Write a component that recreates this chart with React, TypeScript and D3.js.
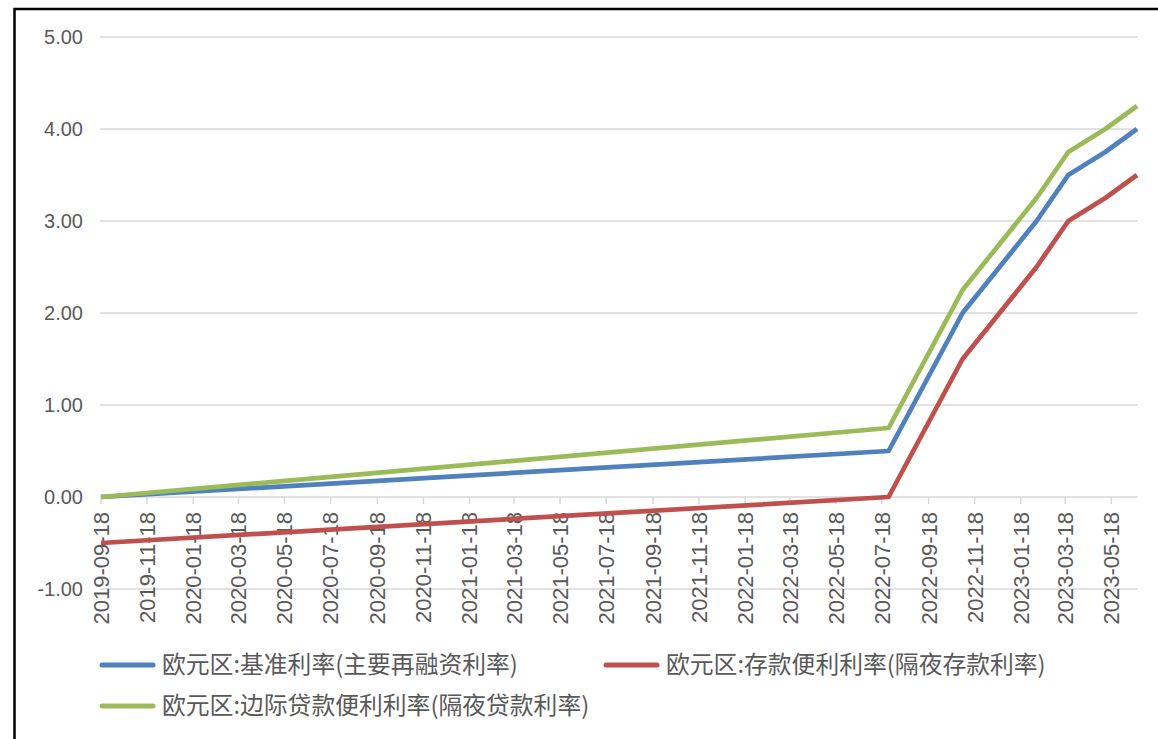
import React from "react";
import * as d3 from "d3";

// Decision dates of the ECB policy rates (%)
const dates = [
  "2019-09-18",
  "2022-07-27",
  "2022-09-14",
  "2022-11-02",
  "2022-12-21",
  "2023-02-08",
  "2023-03-22",
  "2023-05-10",
  "2023-06-21",
];
const mainRefi = [0, 0.5, 1.25, 2.0, 2.5, 3.0, 3.5, 3.75, 4.0];
const depositFacility = [-0.5, 0, 0.75, 1.5, 2.0, 2.5, 3.0, 3.25, 3.5];
const marginalLending = [0, 0.75, 1.5, 2.25, 2.75, 3.25, 3.75, 4.0, 4.25];

const seriesNames = [
  "欧元区:基准利率(主要再融资利率)",
  "欧元区:存款便利利率(隔夜存款利率)",
  "欧元区:边际贷款便利利率(隔夜贷款利率)",
];
const seriesColors = ["#4f81bd", "#c0504d", "#9bbb59"];

const xTickLabels = [
  "2019-09-18", "2019-11-18", "2020-01-18", "2020-03-18", "2020-05-18",
  "2020-07-18", "2020-09-18", "2020-11-18", "2021-01-18", "2021-03-18",
  "2021-05-18", "2021-07-18", "2021-09-18", "2021-11-18", "2022-01-18",
  "2022-03-18", "2022-05-18", "2022-07-18", "2022-09-18", "2022-11-18",
  "2023-01-18", "2023-03-18", "2023-05-18",
];
const yTicks = [-1, 0, 1, 2, 3, 4, 5];

const W = 1158;
const H = 739;
const parse = d3.utcParse("%Y-%m-%d");
const locale = d3.formatLocale({
  decimal: ".",
  thousands: ",",
  grouping: [3],
  currency: ["", ""],
  minus: "-",
});

export default function App() {
  const parsedDates = dates.map((d) => parse(d) as Date);
  const x = d3
    .scaleUtc()
    .domain([parsedDates[0], parsedDates[parsedDates.length - 1]])
    .range([101, 1137]);
  const y = d3.scaleLinear().domain([-1, 5]).range([589, 37]);

  const allSeries = [mainRefi, depositFacility, marginalLending];
  const line = d3
    .line<[Date, number]>()
    .x((d) => x(d[0]))
    .y((d) => y(d[1]));

  const fmt = locale.format(".2f");
  const axisFont = "'Liberation Sans', Arial, sans-serif";
  const cjkFont = "'Noto Sans CJK SC', sans-serif";

  const legendItems = [
    { lx: 100, ly: 665 },
    { lx: 604, ly: 665 },
    { lx: 100, ly: 706 },
  ];

  return (
    <svg
      width={W}
      height={H}
      style={{ position: "absolute", left: 0, top: 0, background: "#fff" }}
    >
      <rect x={0} y={0} width={W} height={H} fill="#fff" />
      {/* chart frame */}
      <rect
        x={14.5}
        y={9}
        width={1400}
        height={900}
        fill="none"
        stroke="#000"
        strokeWidth={2.5}
      />

      {/* horizontal gridlines */}
      {yTicks.map((t) => (
        <line
          key={"g" + t}
          x1={100}
          x2={1138}
          y1={y(t)}
          y2={y(t)}
          stroke="#d9d9d9"
          strokeWidth={1.5}
        />
      ))}

      {/* y tick labels */}
      {yTicks.map((t) => (
        <text
          key={"yl" + t}
          x={83}
          y={y(t)}
          dy="0.36em"
          textAnchor="end"
          fontFamily={axisFont}
          fontSize={20}
          fill="#595959"
        >
          {fmt(t)}
        </text>
      ))}

      {/* x tick marks and rotated labels */}
      {xTickLabels.map((lbl) => {
        const tx = x(parse(lbl) as Date);
        return (
          <g key={lbl}>
            <line
              x1={tx}
              x2={tx}
              y1={y(0)}
              y2={y(0) + 7}
              stroke="#d9d9d9"
              strokeWidth={1.5}
            />
            <text
              transform={`translate(${tx},512) rotate(-90)`}
              dy="0.36em"
              textAnchor="end"
              fontFamily={axisFont}
              fontSize={22}
              fill="#595959"
            >
              {lbl}
            </text>
          </g>
        );
      })}

      {/* series lines */}
      {allSeries.map((vals, i) => (
        <path
          key={"s" + i}
          d={line(vals.map((v, j) => [parsedDates[j], v])) || ""}
          fill="none"
          stroke={seriesColors[i]}
          strokeWidth={4.75}
          strokeLinejoin="round"
          strokeLinecap="butt"
        />
      ))}

      {/* legend */}
      {legendItems.map((it, i) => (
        <g key={"lg" + i}>
          <line
            x1={it.lx + 2}
            x2={it.lx + 53}
            y1={it.ly}
            y2={it.ly}
            stroke={seriesColors[i]}
            strokeWidth={5}
            strokeLinecap="round"
          />
          <text
            x={it.lx + 62}
            y={it.ly}
            dy="0.35em"
            fontFamily={cjkFont}
            fontSize={23.8}
            fill="#595959"
          >
            {seriesNames[i]}
          </text>
        </g>
      ))}
    </svg>
  );
}
